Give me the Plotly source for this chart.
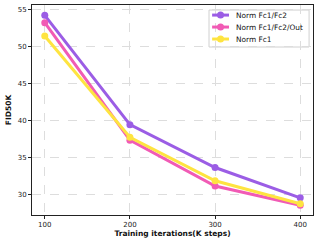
import plotly.graph_objects as go

steps = [100, 200, 300, 400]
norm_fc1_fc2 = [54.2, 39.4, 33.6, 29.5]
norm_fc1_fc2_out = [53.2, 37.3, 31.1, 28.5]
norm_fc1 = [51.4, 37.7, 31.8, 28.7]

series = [
    ("Norm Fc1/Fc2", norm_fc1_fc2, "#9b5de5"),
    ("Norm Fc1/Fc2/Out", norm_fc1_fc2_out, "#f15bb5"),
    ("Norm Fc1", norm_fc1, "#fee440"),
]

fig = go.Figure()
for name, vals, col in series:
    fig.add_trace(go.Scatter(
        x=steps, y=vals, name=name, mode="lines+markers",
        line=dict(color=col, width=3),
        marker=dict(color=col, size=7),
        showlegend=False,
    ))

# custom compact legend (paper coordinates)
fig.add_shape(type="rect", xref="paper", yref="paper",
              x0=0.630, x1=0.986, y0=0.80, y1=0.976,
              line=dict(color="#d0d0d0", width=1), fillcolor="white",
              layer="between")
leg_y = [0.952, 0.895, 0.838]
for (name, vals, col), yy in zip(series, leg_y):
    fig.add_trace(go.Scatter(x=[0.641, 0.701], y=[yy, yy], xaxis="x2", yaxis="y2",
                             mode="lines", line=dict(color=col, width=3),
                             showlegend=False, hoverinfo="skip"))
    fig.add_trace(go.Scatter(x=[0.671], y=[yy], xaxis="x2", yaxis="y2",
                             mode="markers", marker=dict(color=col, size=7),
                             showlegend=False, hoverinfo="skip"))
    fig.add_annotation(xref="paper", yref="paper", x=0.72, y=yy,
                       text=name, showarrow=False, xanchor="left", yanchor="middle",
                       font=dict(size=7.4, family="DejaVu Sans", color="#111"))

axis_common = dict(
    showline=True, mirror=True, linecolor="#222", linewidth=1,
    ticks="outside", ticklen=3, tickcolor="#222",
    showgrid=True, gridcolor="#dddddd", griddash="dash", gridwidth=0.6,
    zeroline=False, tickfont=dict(family="DejaVu Sans", size=7, color="#222"),
)

fig.update_layout(
    width=319, height=245,
    margin=dict(l=32, r=6, t=5, b=30),
    paper_bgcolor="white", plot_bgcolor="white",
    font=dict(family="DejaVu Sans", color="#111"),
    xaxis=dict(range=[85, 415], tickvals=steps,
               title=dict(text="<b>Training iterations(K steps)</b>",
                          font=dict(size=7.5, family="DejaVu Sans"), standoff=2),
               **axis_common),
    yaxis=dict(range=[27.17, 55.6], tickvals=[30, 35, 40, 45, 50, 55],
               title=dict(text="<b>FID50K</b>",
                          font=dict(size=7.5, family="DejaVu Sans"), standoff=5),
               **axis_common),
    xaxis2=dict(range=[0, 1], overlaying="x", visible=False),
    yaxis2=dict(range=[0, 1], overlaying="y", visible=False),
    showlegend=False,
)

fig.write_html("out.html", config={"displayModeBar": False},
               post_script="document.body.style.margin='0';")
